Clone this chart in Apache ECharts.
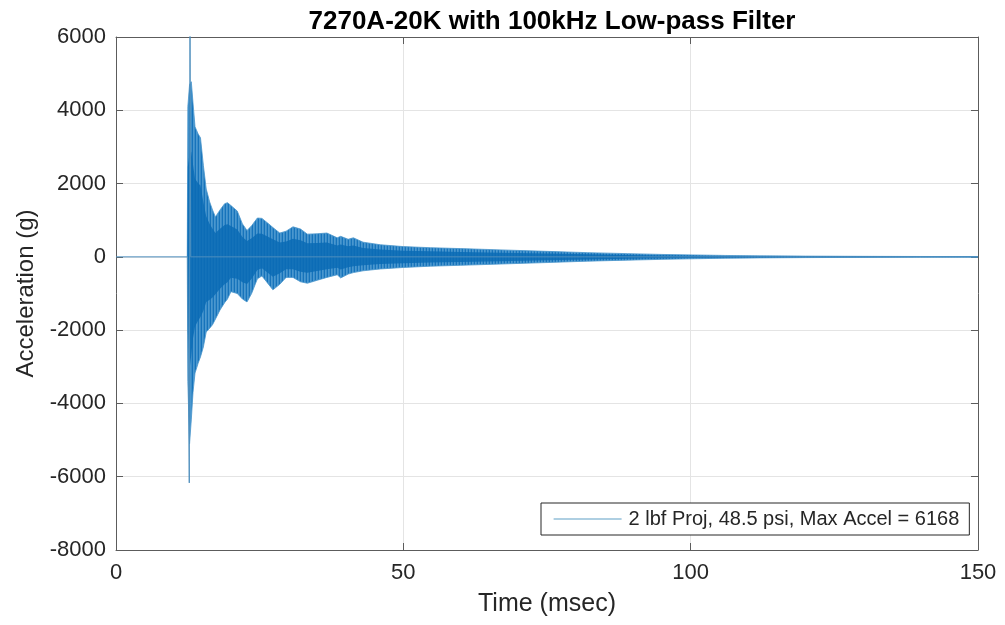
<!DOCTYPE html>
<html>
<head>
<meta charset="utf-8">
<script src="https://cdn.jsdelivr.net/npm/echarts@6/dist/echarts.min.js"></script>
<style>
html,body{margin:0;padding:0;background:#fff;}
#chart{width:1005px;height:625px;}
</style>
</head>
<body>
<div id="chart"></div>
<script>
// ---- data ----
const chartTitle = '7270A-20K with 100kHz Low-pass Filter';
const seriesName = '2 lbf Proj, 48.5 psi, Max Accel = 6168';
const xTicks = [0, 50, 100, 150];
const yTicks = [-8000, -6000, -4000, -2000, 0, 2000, 4000, 6000];

// envelope of the dense oscillation (time in msec, acceleration in g)
const envTime  = [12.4, 12.5, 12.8, 13.1, 13.4, 13.75, 14.3, 14.7, 15.2, 15.7, 16.3, 16.8, 17.3, 18.1, 18.9, 19.4, 20.0, 21.1, 22.0, 22.8, 23.6, 24.6, 25.4, 26.8, 27.3, 28.5, 29.6, 30.8, 32.1, 33.3, 35.0, 36.7, 38.5, 39.1, 40.4, 41.3, 43.0, 46.0, 50.0, 54.7, 60.0, 67.0, 75.0, 82.0, 89.0, 95.0, 100.4, 106.0, 112.0, 120.0, 130.0, 140.0, 150.0];
const envUpper = [0, 4100, 4700, 4780, 4200, 3550, 3350, 3250, 2500, 1850, 1500, 1280, 1090, 1280, 1450, 1480, 1400, 1250, 900, 720, 850, 1060, 1050, 870, 800, 650, 700, 820, 760, 620, 630, 650, 520, 560, 480, 520, 400, 330, 280, 250, 225, 190, 150, 115, 88, 66, 52, 38, 28, 20, 14, 10, 8];
const envLower = [0, -3400, -5100, -4450, -3700, -3170, -2900, -2730, -2460, -2050, -1950, -1850, -1700, -1450, -1250, -1150, -950, -1000, -1150, -1230, -1000, -600, -520, -800, -900, -750, -560, -560, -680, -720, -640, -560, -490, -575, -470, -430, -380, -330, -290, -255, -230, -195, -155, -118, -90, -68, -52, -38, -28, -20, -14, -10, -8];

// thin trace: baseline and the main spike
const traceTime = [0, 12.45, 12.75, 12.88, 13.0, 150];
const traceAccel = [0, 0, -6168, 6168, 0, 0];

// ---- chart ----
const FONT = '"Liberation Sans", Arial, Helvetica, sans-serif';
const TXT = '#262626';

function stripePattern() {
  const c = document.createElement('canvas');
  c.width = 3; c.height = 1;
  const g = c.getContext('2d');
  const cols = ['#1673bb', '#4a97cf', '#3a8cc8'];
  cols.forEach((col, i) => { g.fillStyle = col; g.fillRect(i, 0, 1, 1); });
  return { image: c, repeat: 'repeat' };
}
const pattern = stripePattern();

const chart = echarts.init(document.getElementById('chart'), null, { renderer: 'canvas' });

function bandPoints(api, scale) {
  const pts = [];
  for (let i = 0; i < envTime.length; i++) pts.push(api.coord([envTime[i], envUpper[i] * scale]));
  for (let i = envTime.length - 1; i >= 0; i--) pts.push(api.coord([envTime[i], envLower[i] * scale]));
  return pts;
}

const axisLineStyle = { color: '#5c5c5c', width: 1 };

chart.setOption({
  animation: false,
  backgroundColor: '#ffffff',
  title: {
    text: chartTitle,
    left: 547, top: 4, textAlign: 'center',
    textStyle: { fontFamily: FONT, fontSize: 26, fontWeight: 'bold', color: '#000' }
  },
  grid: { left: 116, right: 27, top: 37, bottom: 75, containLabel: false },
  legend: {
    data: [{ name: seriesName }],
    left: 541, top: 503,
    padding: [6, 10, 6, 12],
    itemWidth: 68, itemHeight: 14, itemGap: 5,
    backgroundColor: '#ffffff',
    borderColor: '#262626', borderWidth: 1, borderRadius: 0,
    lineStyle: { color: '#5f9fc6', width: 1.2 },
    itemStyle: { opacity: 0 },
    textStyle: { fontFamily: FONT, fontSize: 20, color: TXT, padding: [0, 0, 0, 2] }
  },
  xAxis: [{
    type: 'value', min: xTicks[0], max: xTicks[xTicks.length - 1], interval: 50,
    name: 'Time (msec)', nameLocation: 'middle', nameGap: 42,
    nameTextStyle: { fontFamily: FONT, fontSize: 25, color: TXT },
    axisLine: { show: true, onZero: false, lineStyle: axisLineStyle },
    axisTick: { show: true, inside: true, length: 7, lineStyle: axisLineStyle },
    axisLabel: { fontFamily: FONT, fontSize: 22, color: TXT, margin: 12, formatter: v => String(v) },
    splitLine: { show: true, lineStyle: { color: '#e4e4e4', width: 1 } }
  }, {
    type: 'value', position: 'top', min: xTicks[0], max: xTicks[xTicks.length - 1], interval: 50,
    axisLine: { show: true, onZero: false, lineStyle: axisLineStyle },
    axisTick: { show: true, inside: true, length: 7, lineStyle: axisLineStyle },
    axisLabel: { show: false }, splitLine: { show: false }
  }],
  yAxis: [{
    type: 'value', min: yTicks[0], max: yTicks[yTicks.length - 1], interval: 2000,
    name: 'Acceleration (g)', nameLocation: 'middle', nameGap: 69,
    nameTextStyle: { fontFamily: FONT, fontSize: 24, color: TXT },
    axisLine: { show: true, onZero: false, lineStyle: axisLineStyle },
    axisTick: { show: true, inside: true, length: 7, lineStyle: axisLineStyle },
    axisLabel: { fontFamily: FONT, fontSize: 22, color: TXT, margin: 10, formatter: v => String(v) },
    splitLine: { show: true, lineStyle: { color: '#e4e4e4', width: 1 } }
  }, {
    type: 'value', position: 'right', min: yTicks[0], max: yTicks[yTicks.length - 1], interval: 2000,
    axisLine: { show: true, onZero: false, lineStyle: axisLineStyle },
    axisTick: { show: true, inside: true, length: 7, lineStyle: axisLineStyle },
    axisLabel: { show: false }, splitLine: { show: false }
  }],
  series: [{
    type: 'custom',
    name: 'band',
    xAxisIndex: 0, yAxisIndex: 0,
    clip: true,
    silent: true,
    data: envTime.map((t, i) => [t, envUpper[i], envLower[i]]),
    renderItem: function (params, api) {
      if (params.dataIndex !== 0) return null;
      return {
        type: 'group',
        children: [{
          type: 'polygon',
          shape: { points: bandPoints(api, 1) },
          style: { fill: pattern, stroke: '#4a95cc', lineWidth: 0.8 }
        }, {
          type: 'polygon',
          shape: { points: bandPoints(api, 0.6) },
          style: { fill: '#0b6bb5', opacity: 0.85 }
        }]
      };
    },
    z: 2
  }, {
    type: 'line',
    name: seriesName,
    xAxisIndex: 0, yAxisIndex: 0,
    data: traceTime.map((t, i) => [t, traceAccel[i]]),
    symbol: 'none',
    clip: true,
    lineStyle: { color: '#4f8fbd', width: 1 },
    itemStyle: { color: '#4f8fbd' },
    z: 3
  }]
});
</script>
</body>
</html>
